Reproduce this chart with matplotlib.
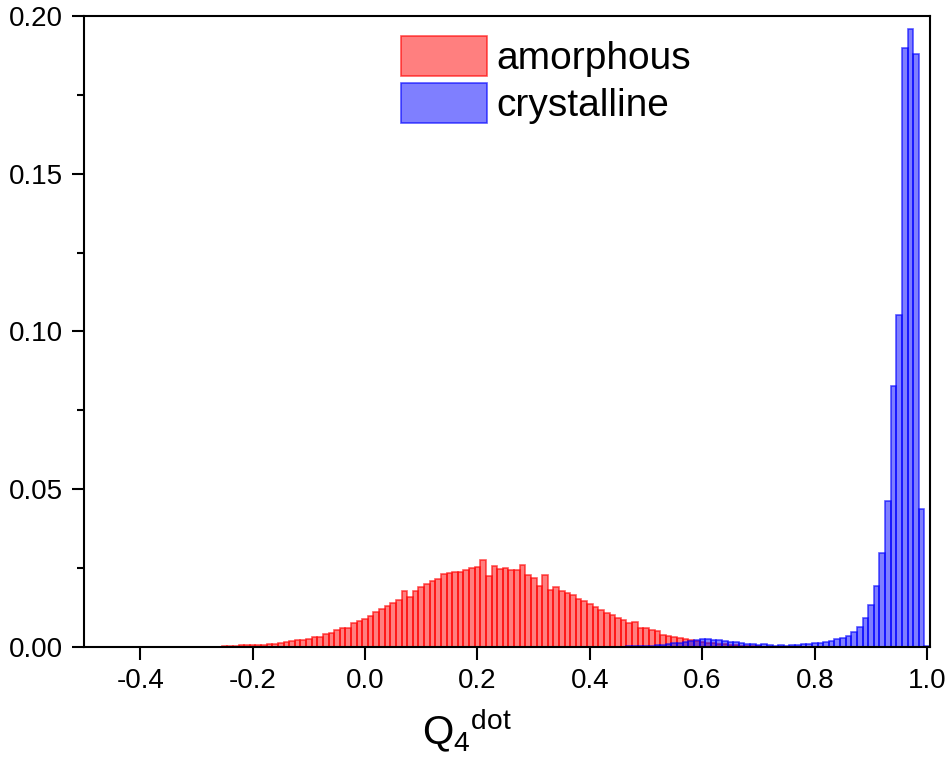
import matplotlib.pyplot as plt
import numpy as np
from matplotlib.ticker import MultipleLocator, FormatStrFormatter

plt.rcParams['font.family'] = ['Liberation Sans', 'DejaVu Sans']
plt.rcParams['mathtext.fontset'] = 'custom'
plt.rcParams['mathtext.rm'] = 'Liberation Sans'
plt.rcParams['axes.unicode_minus'] = False

# bin width 0.01, values are bin centres
bin_width = 0.01

amorph_first = -0.26
amorph_freq = [
    0.0001, 0.0002, 0.0003, 0.0003, 0.0005, 0.0005, 0.0005, 0.0006, 0.0007, 0.0010,
    0.0010, 0.0013, 0.0015, 0.0018, 0.0021, 0.0023, 0.0024, 0.0031, 0.0033, 0.0040,
    0.0044, 0.0053, 0.0060, 0.0060, 0.0076, 0.0083,
    0.0089, 0.0099, 0.0110, 0.0119, 0.0129, 0.0141, 0.0148, 0.0179, 0.0157, 0.0179,
    0.0190, 0.0200, 0.0208, 0.0215, 0.0230, 0.0233, 0.0237, 0.0238, 0.0244, 0.0250,
    0.0252, 0.0277, 0.0225, 0.0257, 0.0248, 0.0250, 0.0244, 0.0244, 0.0259, 0.0229,
    0.0220, 0.0193, 0.0229, 0.0180,
    0.0190, 0.0179, 0.0172, 0.0165, 0.0152, 0.0146, 0.0135, 0.0127, 0.0118, 0.0108,
    0.0100, 0.0093, 0.0084, 0.0076, 0.0079, 0.0060, 0.0060, 0.0054, 0.0052, 0.0038,
    0.0035, 0.0032, 0.0028, 0.0026, 0.0022, 0.0020, 0.0017, 0.0014, 0.0012, 0.0010,
    0.0008, 0.0007, 0.0005, 0.0004, 0.0003, 0.0002, 0.0002, 0.0001, 0.0001,
]

cryst_first = 0.45
cryst_freq = [
    0.0001, 0.0001, 0.0002, 0.0002, 0.0003, 0.0003, 0.0004, 0.0005, 0.0007, 0.0009,
    0.0012, 0.0014, 0.0016, 0.0019, 0.0022, 0.0025, 0.0024, 0.0023, 0.0021, 0.0020,
    0.0017, 0.0015, 0.0012, 0.0010, 0.0008, 0.0006, 0.0008, 0.0005, 0.0004, 0.0005,
    0.0004, 0.0005, 0.0007, 0.0008, 0.0009, 0.0012, 0.0013, 0.0015, 0.0019, 0.0024,
    0.0029, 0.0036, 0.0049, 0.0062, 0.0092, 0.0133, 0.0193, 0.0297, 0.0462, 0.0826,
    0.1053, 0.1900, 0.1960, 0.1880, 0.0436, 0.0003,
]

amorph_x = amorph_first + bin_width * np.arange(len(amorph_freq))
cryst_x = cryst_first + bin_width * np.arange(len(cryst_freq))

fig = plt.figure(figsize=(9.52, 7.63), dpi=100)
ax = fig.add_axes([84 / 952, 1 - 647 / 763, 846 / 952, 631 / 763])

ax.bar(amorph_x, amorph_freq, bin_width, color=(1, 0, 0, 0.5),
       edgecolor=(1, 0, 0, 0.65), linewidth=1.2, label='amorphous')
ax.bar(cryst_x, cryst_freq, bin_width, color=(0, 0, 1, 0.5),
       edgecolor=(0, 0, 1, 0.65), linewidth=1.2, label='crystalline')

ax.set_xlim(-0.5, 1.005)
ax.set_ylim(0, 0.2)
ax.xaxis.set_major_locator(MultipleLocator(0.2))
ax.xaxis.set_major_formatter(FormatStrFormatter('%.1f'))
ax.yaxis.set_major_locator(MultipleLocator(0.05))
ax.yaxis.set_minor_locator(MultipleLocator(0.025))
ax.yaxis.set_major_formatter(FormatStrFormatter('%.2f'))

for s in ax.spines.values():
    s.set_linewidth(1.5)
ax.tick_params(axis='both', which='major', direction='out', length=9, width=1.5,
               labelsize=20, pad=6)
ax.tick_params(axis='y', which='minor', direction='out', length=5, width=1.5)

ax.legend(loc='upper left', bbox_to_anchor=(0.3747, 0.968), frameon=False,
          fontsize=28, handlelength=2.2, handleheight=1.2, handletextpad=0.26,
          labelspacing=0.14, borderpad=0, borderaxespad=0)

fig.text(0.4905, 0.025, r'$\mathrm{Q}_{4}{}^{\mathrm{dot}}$', fontsize=29,
         ha='center', va='baseline')

fig.savefig('out.png', dpi=100)
